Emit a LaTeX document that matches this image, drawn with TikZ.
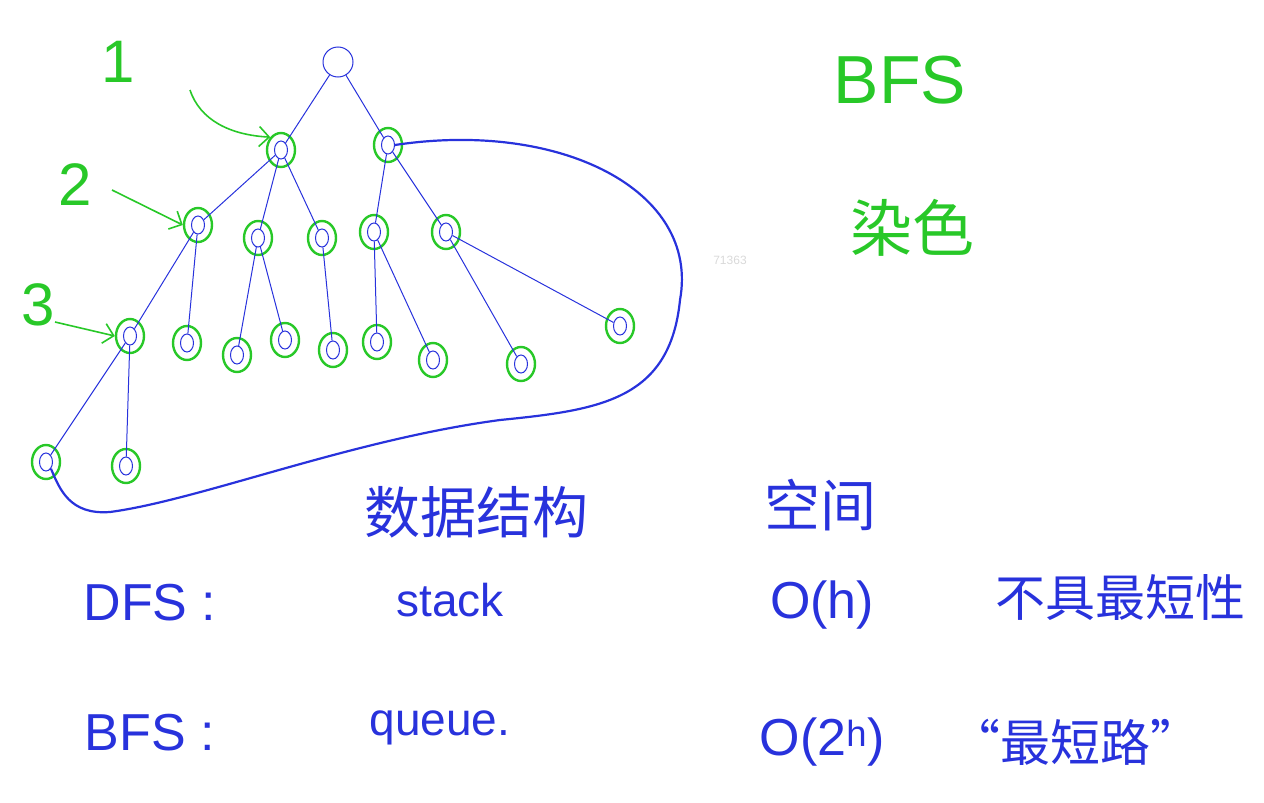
\documentclass[tikz,border=0pt]{standalone}
\usepackage{fontspec}
\setmainfont{Liberation Sans}
\newfontfamily\cjk{Noto Sans CJK SC}
\definecolor{pb}{RGB}{40,50,220}
\definecolor{pg}{RGB}{40,200,40}
\tikzset{
 tn/.style={draw=pb,ellipse,minimum width=13pt,minimum height=18pt,inner sep=0pt,line width=1pt},
 gr/.style={draw=pg,line width=2.4pt,ellipse,minimum width=28pt,minimum height=34pt},
 ed/.style={draw=pb,line width=1pt},
 bt/.style={text=pb,font=\fontsize{46}{46}\selectfont},
 gt/.style={text=pg,font=\fontsize{60}{60}\selectfont},
 ga/.style={draw=pg,line width=1.6pt,-{Straight Barb[length=10pt]}}
}
\usetikzlibrary{shapes.geometric,arrows.meta}
\begin{document}
\begin{tikzpicture}[x=1pt,y=-1pt]
\useasboundingbox (0,0) rectangle (1264,803);
\node[tn,minimum width=30pt,minimum height=30pt] (root) at (338,62) {};
\foreach \n/\x/\y in {a/281/150,b/388/145,c/198/225,d/258/238,e/322/238,f/374/232,g/446/232,
 h/130/336,i/187/343,j/237/355,k/285/340,l/333/350,m/377/342,n/433/360,o/521/364,p/620/326,q/46/462,r/126/466}{
 \node[gr] (\n g) at (\x,\y) {};
 \node[tn] (\n) at (\x,\y) {};
}
\foreach \u/\v in {root/a,root/b,a/c,a/d,a/e,b/f,b/g,c/h,c/i,d/j,d/k,e/l,f/m,f/n,g/o,g/p,h/q,h/r}
 \draw[ed] (\u) -- (\v);
\draw[pb,line width=2.2pt] (b.east) .. controls (560,120) and (700,190) .. (680,300)
 .. controls (670,400) and (600,410) .. (500,420)
 .. controls (350,440) and (200,500) .. (110,512)
 .. controls (70,515) and (60,490) .. (q.south east);
\node[gt] (n1) at (118,62) {1};
\coordinate (a1s) at (190,90);
\draw[ga] (a1s) .. controls (200,120) and (230,135) .. (ag.north west);
\node[gt] (n2) at (75,185) {2};
\coordinate (a2s) at (112,190);
\draw[ga] (a2s) -- (cg.west);
\node[gt] (n3) at (38,305) {3};
\coordinate (a3s) at (55,322);
\draw[ga] (a3s) -- (hg.west);
\node[gt,font=\fontsize{68}{68}\selectfont] (bfs1) at (900,80) {BFS};
\node[gt,font=\cjk\fontsize{62}{62}\selectfont] (ran) at (912,228) {染色};
\node[text=black!15,font=\fontsize{12}{12}\selectfont] (wm) at (730,260) {71363};
\node[bt,font=\cjk\fontsize{56}{56}\selectfont] (ds) at (476,512) {数据结构};
\node[bt,font=\cjk\fontsize{56}{56}\selectfont] (kj) at (820,505) {空间};
\node[bt,font=\fontsize{52}{52}\selectfont] (dfs) at (150,603) {DFS :};
\node[bt] (stk) at (450,600) {stack};
\node[bt,font=\fontsize{52}{52}\selectfont] (oh) at (822,605) {O(h)};
\node[bt,font=\cjk\fontsize{50}{50}\selectfont] (bj) at (1120,598) {不具最短性};
\node[bt,font=\fontsize{52}{52}\selectfont] (bfs2) at (150,733) {BFS :};
\node[bt] (que) at (440,728) {queue.};
\node[bt,font=\fontsize{52}{52}\selectfont] (o2h) at (822,742) {O(2\textsuperscript{h})};
\node[bt,font=\cjk\fontsize{50}{50}\selectfont] (zdl) at (1075,742) {“最短路”};
\end{tikzpicture}
\end{document}
